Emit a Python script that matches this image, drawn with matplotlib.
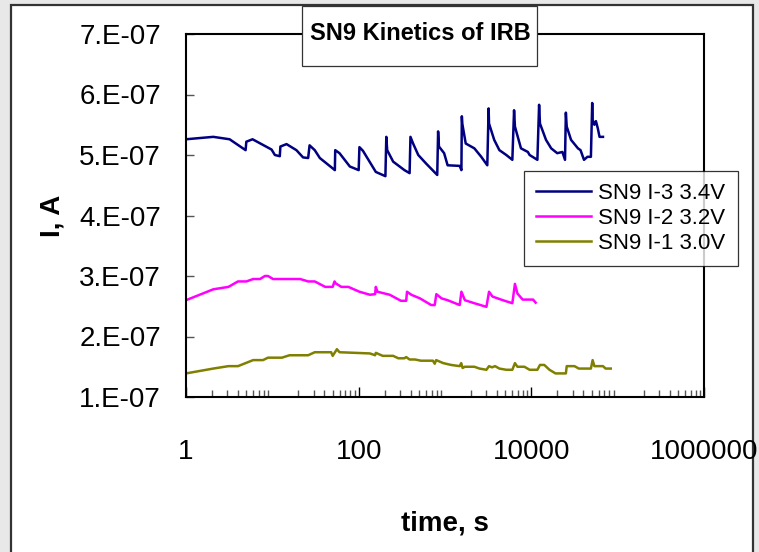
#!/usr/bin/env python3

import matplotlib
matplotlib.use("Agg")
import matplotlib.pyplot as plt
from matplotlib.patches import Rectangle

plt.rcParams['font.family'] = ['Liberation Sans', 'DejaVu Sans']

# Data (time in s, current in units of 1e-7 A).
t_34 = [1, 2.07, 3.2, 4.9, 5.0, 5.9, 9.8, 10.7, 12.2, 12.4, 14.6, 19, 22.7, 26, 27,
        31, 35.5, 53, 53.5, 60, 79, 100, 102, 112, 158, 204, 209, 214, 251, 339,
        389, 398, 427, 490, 603, 813, 832, 851, 977, 1072, 1479, 1549, 1567, 1585,
        1738, 2188, 2630, 3090, 3200, 3236, 3715, 4266, 5129, 6026, 6310, 6457,
        7586, 9120, 9550, 11750, 12300, 12590, 14790, 16980, 19950, 22900, 24550,
        25120, 25700, 28840, 34670, 37150, 40740, 44670, 48980, 50700, 51290,
        53700, 56000, 58880, 61660, 67600]
i_34 = [5.26, 5.30, 5.26, 5.08, 5.22, 5.26, 5.09, 5.00, 4.98, 5.14, 5.18, 5.08, 4.96,
        4.95, 5.16, 5.08, 4.95, 4.75, 5.08, 5.03, 4.81, 4.75, 5.13, 5.07, 4.72, 4.65,
        5.30, 5.08, 4.89, 4.75, 4.70, 5.30, 5.19, 5.00, 4.86, 4.67, 5.39, 5.14, 5.03,
        4.83, 4.82, 4.75, 5.64, 5.52, 5.19, 5.11, 4.97, 4.83, 5.77, 5.52, 5.25, 5.08,
        5.00, 4.92, 5.74, 5.47, 5.11, 5.05, 5.00, 4.92, 5.83, 5.52, 5.25, 5.11, 5.03,
        5.05, 4.92, 5.70, 5.47, 5.25, 5.11, 5.08, 4.92, 4.97, 4.97, 5.86, 5.58, 5.50,
        5.56, 5.44, 5.30, 5.30]

t_32 = [1, 2.07, 3.1, 4.0, 5.0, 6.0, 7.2, 8.2, 8.9, 10.2, 21, 26, 31, 41, 50, 52.5,
        54, 63, 76, 102, 135, 155, 158, 165, 229, 309, 355, 363, 407, 513, 692, 760,
        794, 912, 1072, 1479, 1549, 1700, 2188, 3020, 3236, 3550, 4677, 6026, 6457,
        6900, 7943, 10470, 11220]
i_32 = [2.60, 2.78, 2.82, 2.91, 2.91, 2.95, 2.95, 3.00, 3.00, 2.95, 2.95, 2.91, 2.91,
        2.82, 2.82, 2.91, 2.88, 2.82, 2.82, 2.74, 2.69, 2.70, 2.82, 2.74, 2.69, 2.59,
        2.59, 2.74, 2.69, 2.63, 2.52, 2.52, 2.70, 2.63, 2.60, 2.52, 2.74, 2.60, 2.55,
        2.49, 2.74, 2.66, 2.60, 2.55, 2.87, 2.71, 2.61, 2.61, 2.56]

t_30 = [1, 2.07, 3.1, 4.0, 6.0, 7.8, 8.9, 12.9, 15.8, 26, 31, 48, 50, 56, 60, 135,
        155, 158, 190, 251, 288, 339, 355, 389, 450, 525, 724, 760, 790, 955, 1175,
        1479, 1540, 1600, 1700, 2188, 2512, 3020, 3236, 3500, 3800, 4266, 5129, 6026,
        6457, 6900, 8318, 9550, 11750, 12590, 14130, 16220, 19050, 25120, 25700,
        31620, 35480, 48980, 51290, 53700, 67600, 72440, 83180]
i_30 = [1.39, 1.47, 1.51, 1.51, 1.61, 1.61, 1.65, 1.65, 1.69, 1.69, 1.74, 1.74, 1.68,
        1.79, 1.74, 1.72, 1.69, 1.73, 1.68, 1.68, 1.64, 1.64, 1.66, 1.62, 1.62, 1.60,
        1.60, 1.55, 1.61, 1.56, 1.53, 1.51, 1.56, 1.48, 1.50, 1.50, 1.47, 1.45, 1.51,
        1.49, 1.51, 1.47, 1.45, 1.45, 1.56, 1.50, 1.50, 1.45, 1.45, 1.53, 1.53, 1.45,
        1.39, 1.39, 1.51, 1.51, 1.47, 1.47, 1.61, 1.51, 1.51, 1.47, 1.47]

labels = ["SN9 I-3 3.4V", "SN9 I-2 3.2V", "SN9 I-1 3.0V"]
colors = ["#000080", "#ff00ff", "#808000"]
y_ticks = [1e-7, 2e-7, 3e-7, 4e-7, 5e-7, 6e-7, 7e-7]
y_tick_labels = ["1.E-07", "2.E-07", "3.E-07", "4.E-07", "5.E-07", "6.E-07", "7.E-07"]
x_ticks = [1, 100, 10000, 1000000]
x_tick_labels = ["1", "100", "10000", "1000000"]

fig = plt.figure(figsize=(7.59, 5.52), dpi=100)
fig.patch.set_facecolor("#e9e8e8")

# white chart area with a dark border, behind everything
W, H = 759.0, 552.0
fig.patches.append(Rectangle((11 / W, -0.05), (753 - 11) / W, (552 - 5) / H + 0.05,
                             transform=fig.transFigure, facecolor="white",
                             edgecolor="#333333", linewidth=1.6, zorder=-10))

ax = fig.add_axes([186 / W, 1 - 397 / H, (704 - 186) / W, (397 - 34) / H])
ax.set_zorder(1)
ax.set_xscale("log")

series = [(t_34, i_34), (t_32, i_32), (t_30, i_30)]
for (t, i), lab, c in zip(series, labels, colors):
    ax.plot(t, [v * 1e-7 for v in i], color=c, lw=1.8, label=lab)

ax.set_xlim(1, 1e6)
ax.set_ylim(1e-7, 7e-7)
ax.set_yticks(y_ticks)
ax.set_yticklabels(y_tick_labels)
ax.set_xticks(x_ticks)
ax.set_xticklabels(x_tick_labels)

for s in ax.spines.values():
    s.set_linewidth(1.5)
ax.tick_params(axis="y", direction="in", length=6, width=1, color="#555555",
               labelsize=20, pad=18)
ax.tick_params(axis="x", which="major", direction="in", length=7, width=1,
               labelsize=20, pad=30)
ax.tick_params(axis="x", which="minor", direction="in", length=5, width=1,
               color="#555555")

ax.set_xlabel("time, s", fontsize=20, fontweight="bold", labelpad=33)
ax.set_ylabel("I, A", fontsize=20, fontweight="bold", labelpad=10)

leg = ax.legend(loc="upper left", bbox_to_anchor=((524 - 186) / (704 - 186), (397 - 171) / (397 - 34)),
                fontsize=16, frameon=True, fancybox=False, handlelength=2.45,
                handletextpad=0.35, labelspacing=0.17, borderpad=0.55,
                borderaxespad=0)
leg.get_frame().set_edgecolor("black")
leg.get_frame().set_linewidth(0.9)

# title in its own box
fig.patches.append(Rectangle((302 / W, 1 - 66 / H), (537 - 302) / W, 60 / H,
                             transform=fig.transFigure, facecolor="white",
                             edgecolor="#333333", linewidth=0.9, zorder=4))
fig.text(420 / W, 1 - 34 / H, "SN9 Kinetics of IRB", fontsize=17, fontweight="bold",
         ha="center", va="center", zorder=5)

fig.savefig("out.png", dpi=100, facecolor=fig.get_facecolor())
